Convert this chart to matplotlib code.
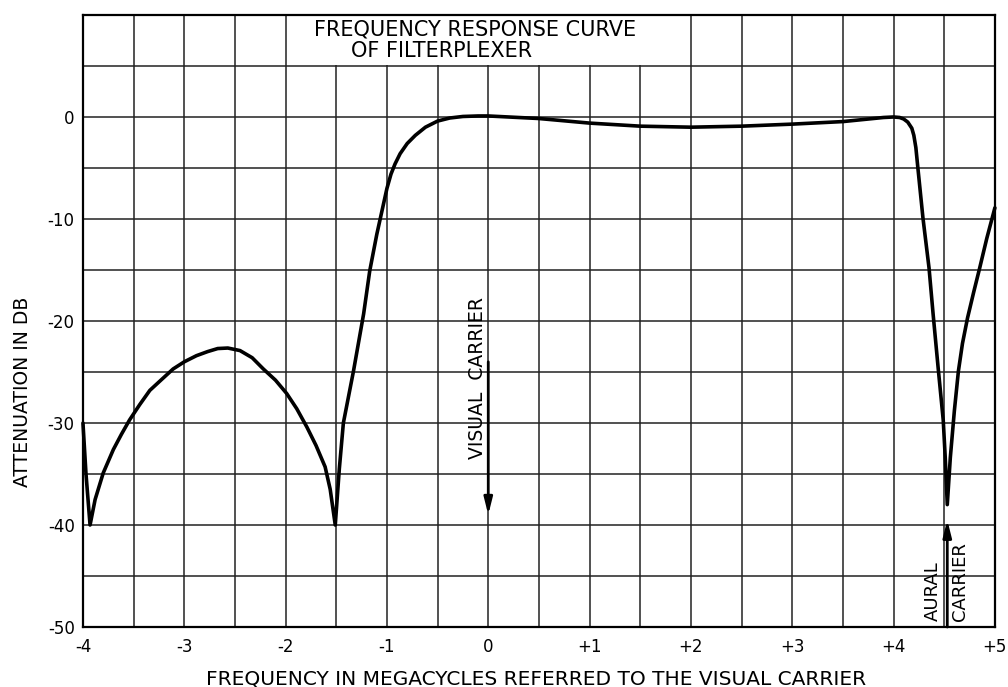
import matplotlib
matplotlib.use("Agg")
import matplotlib.pyplot as plt
from matplotlib.patches import Rectangle
import numpy as np

# frequency (MHz from visual carrier) and attenuation (dB)
freq = [-4.00, -3.97, -3.93, -3.88, -3.80, -3.70, -3.62, -3.54, -3.44, -3.34,
        -3.22, -3.11, -3.00, -2.88, -2.77, -2.67, -2.57, -2.45, -2.33, -2.22,
        -2.10, -1.99, -1.89, -1.79, -1.70, -1.61, -1.56, -1.51,
        -1.47, -1.43, -1.33, -1.23, -1.17, -1.10, -1.04, -1.00, -0.96, -0.92,
        -0.87, -0.80, -0.72, -0.62, -0.50, -0.38, -0.25, -0.10,
        0.00, 0.50, 1.00, 1.50, 2.00, 2.50, 3.00, 3.50, 3.90, 4.00,
        4.06, 4.10, 4.14, 4.18, 4.20, 4.22, 4.24, 4.29, 4.35, 4.39, 4.44,
        4.49, 4.51, 4.53,
        4.56, 4.60, 4.64, 4.68, 4.73, 4.79, 4.85, 4.92, 5.00]
atten = [-30.0, -35.0, -40.0, -37.5, -34.9, -32.6, -31.1, -29.7, -28.2, -26.8,
         -25.7, -24.7, -24.0, -23.4, -23.0, -22.7, -22.65, -22.9, -23.6, -24.7,
         -25.8, -27.1, -28.6, -30.4, -32.2, -34.3, -36.5, -40.0,
         -34.5, -30.0, -24.9, -19.3, -15.1, -11.5, -8.8, -7.0, -5.6, -4.6,
         -3.6, -2.6, -1.8, -1.0, -0.4, -0.1, 0.05, 0.1,
         0.1, -0.15, -0.6, -0.9, -1.0, -0.9, -0.7, -0.45, -0.05, 0.0,
         -0.05, -0.2, -0.5, -1.1, -1.8, -3.0, -5.0, -9.9, -14.8, -19.3, -24.6,
         -29.7, -33.4, -38.0,
         -33.4, -28.8, -24.9, -22.2, -19.7, -17.2, -14.8, -11.9, -8.9]

x_ticks = [-4, -3, -2, -1, 0, 1, 2, 3, 4, 5]
x_labels = ["-4", "-3", "-2", "-1", "0", "+1", "+2", "+3", "+4", "+5"]
y_ticks = [0, -10, -20, -30, -40, -50]
y_labels = ["0", "-10", "-20", "-30", "-40", "-50"]

fig = plt.figure(figsize=(10.08, 6.87), dpi=100)
ax = fig.add_axes([0.0823, 0.0873, 0.9047, 0.8909])

ax.set_xlim(-4, 5)
ax.set_ylim(-50, 10)
ax.set_xticks(x_ticks)
ax.set_xticklabels(x_labels, fontsize=12)
ax.set_yticks(y_ticks)
ax.set_yticklabels(y_labels, fontsize=12)
ax.set_xticks(np.arange(-4, 5.01, 0.5), minor=True)
ax.set_yticks(np.arange(-50, 10.01, 5), minor=True)
ax.tick_params(which="both", length=0)
ax.tick_params(axis="x", pad=8)
ax.tick_params(axis="y", pad=6)
ax.set_axisbelow(True)
ax.grid(which="both", color="#222222", linewidth=1.1)
for s in ax.spines.values():
    s.set_linewidth(1.6)
    s.set_color("black")

# title box blanks out the grid in the top row
ax.add_patch(Rectangle((-1.97, 5.1), 3.94, 4.85, facecolor="white",
                       edgecolor="none", zorder=1))
ax.text(-0.13, 8.6, "FREQUENCY RESPONSE CURVE", fontsize=15,
        ha="center", va="center", zorder=3)
ax.text(-0.46, 6.5, "OF FILTERPLEXER", fontsize=15,
        ha="center", va="center", zorder=3)

ax.plot(freq, atten, color="black", linewidth=2.6, solid_joinstyle="round",
        solid_capstyle="round", zorder=4, clip_on=False)

# carrier markers
ax.annotate("", xy=(0, -39), xytext=(0, -24),
            arrowprops=dict(arrowstyle="-|>,head_width=0.25,head_length=1.0",
                            color="black", lw=2, shrinkA=0, shrinkB=0))
ax.text(-0.11, -25.6, "VISUAL  CARRIER", rotation=90, fontsize=13.5,
        ha="center", va="center")
ax.annotate("", xy=(4.53, -39.5), xytext=(4.53, -50),
            arrowprops=dict(arrowstyle="-|>,head_width=0.25,head_length=1.0",
                            color="black", lw=2, shrinkA=0, shrinkB=0))
ax.text(4.39, -49.4, "AURAL", rotation=90, fontsize=13,
        ha="center", va="bottom")
ax.text(4.66, -49.4, "CARRIER", rotation=90, fontsize=13,
        ha="center", va="bottom")

fig.text(0.532, 0.0116, "FREQUENCY IN MEGACYCLES REFERRED TO THE VISUAL CARRIER",
         fontsize=14.5, ha="center", va="center")
fig.text(0.022, 0.43, "ATTENUATION IN DB", rotation=90, fontsize=13.5,
         ha="center", va="center")

fig.savefig("out.png", dpi=100, facecolor="white")
